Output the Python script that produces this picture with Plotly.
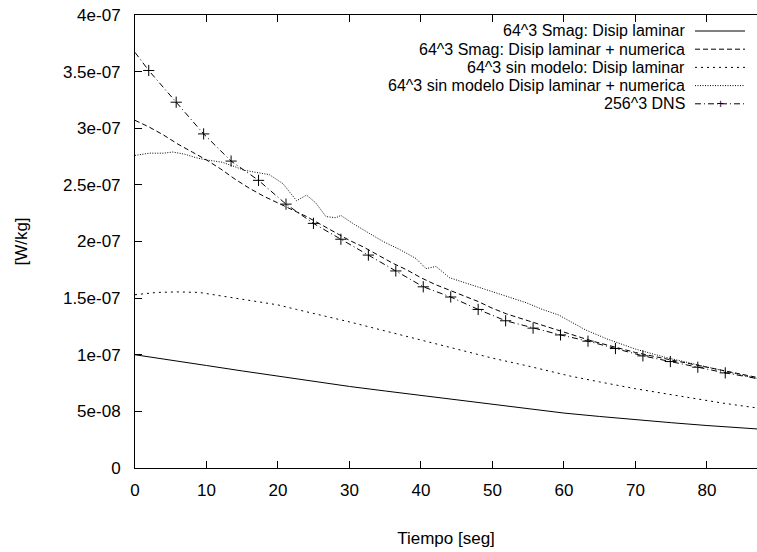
import plotly.graph_objects as go

# ---- data (values in W/kg) ----
smag_lam_t = [0, 5, 10, 15, 20, 25, 30, 35, 40, 45, 50, 55, 60, 65, 70, 75, 80, 87]
smag_lam_v = [1.00, 0.955, 0.905, 0.857, 0.81, 0.765, 0.72, 0.68, 0.64, 0.60, 0.56, 0.52,
              0.485, 0.455, 0.425, 0.40, 0.375, 0.345]

smag_num_t = [0, 2, 4, 6, 8, 10, 12, 14, 16, 18, 20, 22, 24, 26, 28, 30, 32, 34, 36, 38, 40,
              42, 44, 46, 48, 50, 52, 55, 58, 61, 64, 67, 70, 73, 76, 79, 82, 85, 87]
smag_num_v = [3.07, 3.01, 2.94, 2.86, 2.79, 2.72, 2.64, 2.55, 2.47, 2.40, 2.34, 2.28, 2.22,
              2.15, 2.08, 2.01, 1.95, 1.88, 1.81, 1.75, 1.68, 1.62, 1.57, 1.52, 1.47, 1.41,
              1.36, 1.30, 1.24, 1.18, 1.12, 1.07, 1.02, 0.98, 0.94, 0.90, 0.86, 0.82, 0.80]

sm_lam_t = [0, 3, 6, 9, 12, 15, 18, 20, 22.6, 26, 30, 35, 40, 45, 50, 55, 61, 65, 70, 76.7, 82, 87]
sm_lam_v = [1.53, 1.55, 1.555, 1.55, 1.52, 1.49, 1.46, 1.44, 1.40, 1.35, 1.29, 1.21, 1.13,
            1.05, 0.97, 0.90, 0.81, 0.76, 0.70, 0.63, 0.575, 0.53]

sm_num_t = [0, 2, 4, 5.3, 7, 8.5, 10, 12.2, 14, 15.2, 17, 18.8, 20, 20.7, 22.6, 24, 25.3,
            26.7, 28.1, 28.8, 30.7, 32.5, 34.7, 37, 39.3, 40.7, 42.1, 44, 46, 48, 50, 52,
            54.7, 57, 59.3, 61, 63, 66, 70, 74, 78, 82, 87]
sm_num_v = [2.76, 2.78, 2.78, 2.79, 2.77, 2.74, 2.72, 2.70, 2.66, 2.63, 2.61, 2.59, 2.54,
            2.51, 2.36, 2.41, 2.34, 2.22, 2.21, 2.23, 2.15, 2.08, 2.00, 1.93, 1.85, 1.76,
            1.78, 1.68, 1.64, 1.60, 1.56, 1.52, 1.46, 1.40, 1.35, 1.29, 1.22, 1.14, 1.05,
            0.98, 0.92, 0.86, 0.79]

dns_t = [0, 1.92, 5.76, 9.6, 13.44, 17.28, 21.12, 24.96, 28.8, 32.64, 36.48, 40.32, 44.16,
         48.0, 51.84, 55.68, 59.52, 63.36, 67.2, 71.04, 74.88, 78.72, 82.56, 87]
dns_v = [3.67, 3.51, 3.23, 2.95, 2.71, 2.54, 2.33, 2.16, 2.02, 1.88, 1.74, 1.60, 1.51,
         1.40, 1.30, 1.235, 1.175, 1.12, 1.055, 0.99, 0.94, 0.89, 0.84, 0.79]
dns_marked = [0] + [1] * 22 + [0]

labels = ["64^3 Smag: Disip laminar",
          "64^3 Smag: Disip laminar + numerica",
          "64^3 sin modelo: Disip laminar",
          "64^3 sin modelo Disip laminar + numerica",
          "256^3 DNS"]

y_tick_vals = [0, 0.5e-7, 1e-7, 1.5e-7, 2e-7, 2.5e-7, 3e-7, 3.5e-7, 4e-7]
y_tick_text = ["0", "5e-08", "1e-07", "1.5e-07", "2e-07", "2.5e-07", "3e-07", "3.5e-07", "4e-07"]
x_tick_vals = [0, 10, 20, 30, 40, 50, 60, 70, 80]

SCALE = 1e-7

def sc(v):
    return [x * SCALE for x in v]

dashes = ["solid", "5px,3px", "2px,4px", "1px,1.5px", "6px,3px,1px,3px"]

fig = go.Figure()
series = [(smag_lam_t, smag_lam_v), (smag_num_t, smag_num_v), (sm_lam_t, sm_lam_v),
          (sm_num_t, sm_num_v)]
for i, (t, v) in enumerate(series):
    fig.add_trace(go.Scatter(x=t, y=sc(v), mode="lines", name=labels[i], showlegend=False,
                             line=dict(color="black", width=1, dash=dashes[i])))
fig.add_trace(go.Scatter(x=dns_t, y=sc(dns_v), mode="lines", name=labels[4], showlegend=False,
                         line=dict(color="black", width=1, dash=dashes[4])))
fig.add_trace(go.Scatter(x=[t for t, m in zip(dns_t, dns_marked) if m],
                         y=sc([v for v, m in zip(dns_v, dns_marked) if m]),
                         mode="markers", showlegend=False,
                         marker=dict(symbol="cross-thin", size=8, color="black",
                                     line=dict(color="black", width=1))))

FONT = "Liberation Sans, Arial, Helvetica, sans-serif"
FS = 17
LFS = 16

# custom gnuplot-style legend (text right, sample on the right)
L, R, T, B = 135, 757, 15, 468
W, H = R - L, B - T
shapes, annots = [], []
for i, lab in enumerate(labels):
    ypx = 31 + i * 18.2
    yp = (B - ypx) / H
    annots.append(dict(xref="paper", yref="paper", x=(686 - L) / W, y=yp, text=lab,
                       showarrow=False, xanchor="right", yanchor="middle", borderpad=0,
                       font=dict(family=FONT, size=LFS, color="black")))
    shapes.append(dict(type="line", xref="paper", yref="paper",
                       x0=(695 - L) / W, x1=(745 - L) / W, y0=yp, y1=yp,
                       line=dict(color="black", width=1, dash=dashes[i])))
    if i == 4:
        annots.append(dict(xref="paper", yref="paper", x=(720 - L) / W, y=yp, text="+",
                           showarrow=False, xanchor="center", yanchor="middle", borderpad=0,
                           font=dict(family=FONT, size=12, color="black")))

fig.update_layout(
    width=757, height=552,
    margin=dict(l=L, r=0, t=T, b=552 - B),
    plot_bgcolor="white", paper_bgcolor="white",
    font=dict(family=FONT, size=FS, color="black"),
    shapes=shapes, annotations=annots,
    xaxis=dict(range=[0, 87], tickvals=x_tick_vals, ticks="inside", ticklen=7,
               tickcolor="black", showline=True, linecolor="black", linewidth=1,
               mirror="ticks", showgrid=False, zeroline=False, ticklabelstandoff=7,
               title=dict(text="Tiempo [seg]", standoff=32, font=dict(size=FS))),
    yaxis=dict(range=[0, 4e-7], tickvals=y_tick_vals, ticktext=y_tick_text, ticks="inside",
               ticklen=7, tickcolor="black", showline=True, linecolor="black", linewidth=1,
               mirror=False, showgrid=False, zeroline=False, ticklabelstandoff=10,
               title=dict(text="[W/kg]", standoff=30, font=dict(size=FS))),
)

fig.write_html("out.html")
